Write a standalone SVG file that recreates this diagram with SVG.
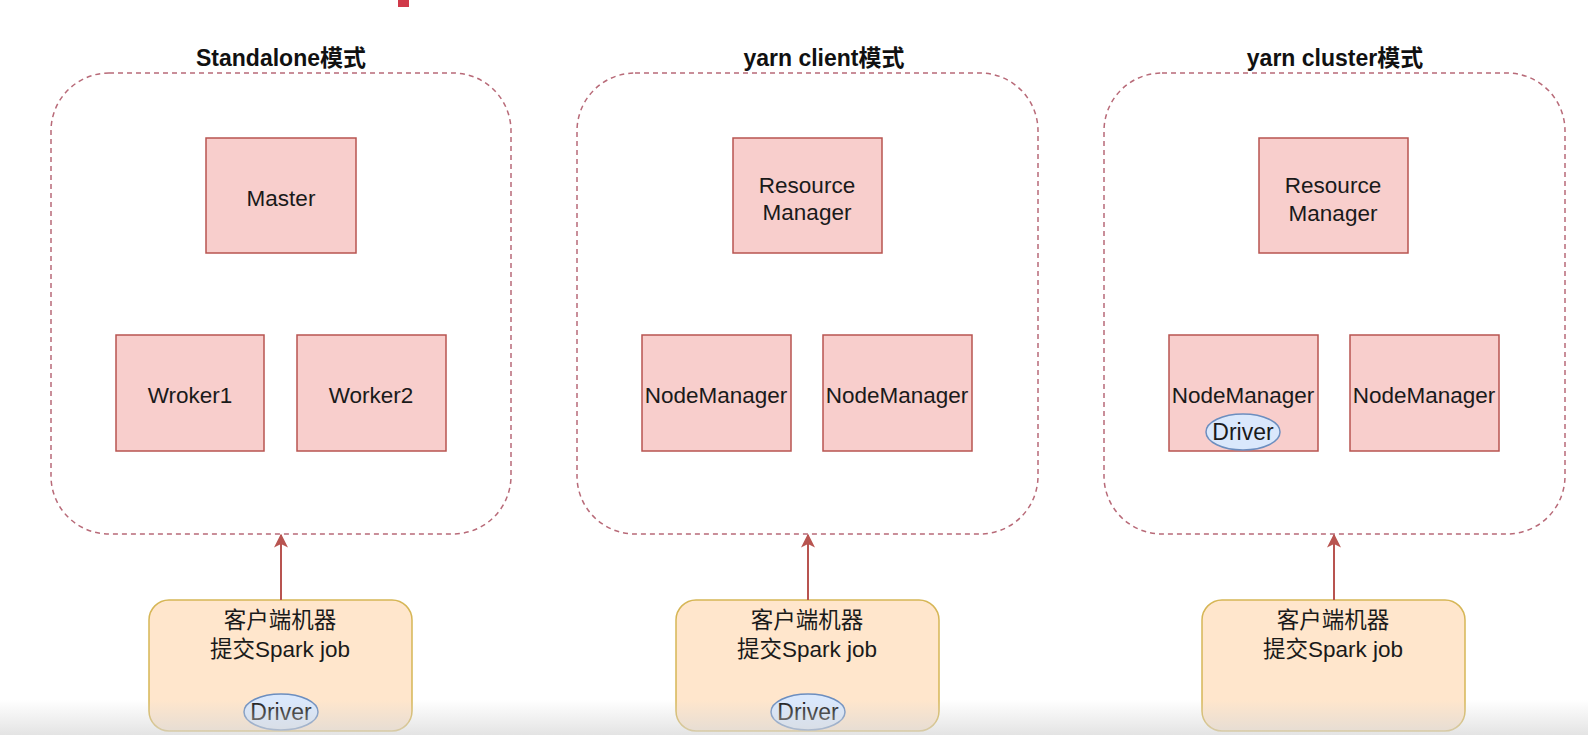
<svg xmlns="http://www.w3.org/2000/svg" width="1588" height="735" viewBox="0 0 1588 735">
<style>
.box{fill:#f8cecc;stroke:#b85450;stroke-width:1.5}
.cont{fill:none;stroke:#b86a78;stroke-width:1.5;stroke-dasharray:5 4}
.client{fill:#ffe6cc;stroke:#d6b656;stroke-width:1.5}
.drv{fill:#dae8fc;stroke:#6c8ebf;stroke-width:1.5}
.t{font-family:"Liberation Sans",Arial,sans-serif;font-size:22.5px;fill:#1a1a1a;text-anchor:middle}
.d{font-family:"Liberation Sans",Arial,sans-serif;font-size:23px;fill:#1a1a1a;text-anchor:middle}
.c{font-family:"Liberation Sans","Noto Sans CJK SC",sans-serif;font-size:22.5px;fill:#1a1a1a;text-anchor:middle}
.title{font-family:"Liberation Sans","Noto Sans CJK SC",sans-serif;font-size:23px;font-weight:bold;fill:#111;text-anchor:middle}
.conn{stroke:#b85450;stroke-width:2;fill:none}
</style>
<defs>
<marker id="arr" viewBox="0 0 10 10" refX="9" refY="5" markerWidth="7" markerHeight="7" markerUnits="strokeWidth" orient="auto">
<path d="M0,0 L10,5 L0,10 L2.5,5 Z" fill="#b85450"/>
</marker>
<linearGradient id="fade" x1="0" y1="0" x2="0" y2="1">
<stop offset="0" stop-color="#d8d8d8" stop-opacity="0"/>
<stop offset="1" stop-color="#d8d8d8" stop-opacity="0.7"/>
</linearGradient>
</defs>
<rect width="1588" height="735" fill="#ffffff"/>
<rect x="398" y="0" width="11" height="7" fill="#d03a4a"/>

<g id="standalone">
<rect class="cont" x="51" y="73" width="460" height="461" rx="58" ry="58"/>
<text class="title" x="281" y="66">Standalone模式</text>
</g>
<g id="master"><rect class="box" x="206" y="138" width="150" height="115"/><text class="t" x="281" y="206">Master</text></g>
<g id="worker1"><rect class="box" x="116" y="335" width="148" height="116"/><text class="t" x="190" y="403">Wroker1</text></g>
<g id="worker2"><rect class="box" x="297" y="335" width="149" height="116"/><text class="t" x="371" y="403">Worker2</text></g>

<g id="yarnclient">
<rect class="cont" x="577" y="73" width="461" height="461" rx="58" ry="58"/>
<text class="title" x="824" y="66">yarn client模式</text>
</g>
<g id="rm1"><rect class="box" x="733" y="138" width="149" height="115"/><text class="t" x="807" y="193">Resource</text><text class="t" x="807" y="220">Manager</text></g>
<g id="nm1"><rect class="box" x="642" y="335" width="149" height="116"/><text class="t" x="716" y="403">NodeManager</text></g>
<g id="nm2"><rect class="box" x="823" y="335" width="149" height="116"/><text class="t" x="897" y="403">NodeManager</text></g>

<g id="yarncluster">
<rect class="cont" x="1104" y="73" width="461" height="461" rx="58" ry="58"/>
<text class="title" x="1335" y="66">yarn cluster模式</text>
</g>
<g id="rm2"><rect class="box" x="1259" y="138" width="149" height="115"/><text class="t" x="1333" y="193">Resource</text><text class="t" x="1333" y="221">Manager</text></g>
<g id="nm3"><rect class="box" x="1169" y="335" width="149" height="116"/><text class="t" x="1243" y="403">NodeManager</text></g>
<g id="driver3"><ellipse class="drv" cx="1243" cy="432" rx="37" ry="18"/><text class="d" x="1243" y="440">Driver</text></g>
<g id="nm4"><rect class="box" x="1350" y="335" width="149" height="116"/><text class="t" x="1424" y="403">NodeManager</text></g>

<g id="client1"><rect class="client" x="149" y="600" width="263" height="131" rx="20" ry="20"/><text class="c" x="280" y="628">客户端机器</text><text class="c" x="280" y="657">提交Spark job</text></g>
<g id="driver1"><ellipse class="drv" cx="281" cy="712" rx="37" ry="18"/><text class="d" x="281" y="720">Driver</text></g>
<g id="client2"><rect class="client" x="676" y="600" width="263" height="131" rx="20" ry="20"/><text class="c" x="807" y="628">客户端机器</text><text class="c" x="807" y="657">提交Spark job</text></g>
<g id="driver2"><ellipse class="drv" cx="808" cy="712" rx="37" ry="18"/><text class="d" x="808" y="720">Driver</text></g>
<g id="client3"><rect class="client" x="1202" y="600" width="263" height="131" rx="20" ry="20"/><text class="c" x="1333" y="628">客户端机器</text><text class="c" x="1333" y="657">提交Spark job</text></g>

<g id="connectors">
<line class="conn" x1="281" y1="600" x2="281" y2="535" marker-end="url(#arr)"/>
<line class="conn" x1="808" y1="600" x2="808" y2="535" marker-end="url(#arr)"/>
<line class="conn" x1="1334" y1="600" x2="1334" y2="535" marker-end="url(#arr)"/>
</g>
<rect x="0" y="700" width="1588" height="35" fill="url(#fade)"/>
</svg>
